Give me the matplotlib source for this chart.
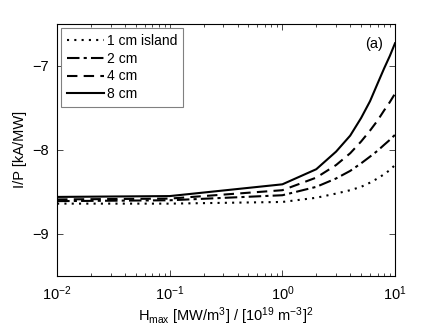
import matplotlib
matplotlib.use("Agg")
import matplotlib.pyplot as plt
from matplotlib.ticker import LogLocator, NullFormatter

plt.rcParams['font.family'] = ['Liberation Sans', 'DejaVu Sans']
plt.rcParams['mathtext.fontset'] = 'custom'
plt.rcParams['mathtext.rm'] = 'Liberation Sans'
plt.rcParams['mathtext.it'] = 'Liberation Sans'

h_max = [0.01, 0.1, 1, 2, 3, 4, 5, 6, 7, 8, 9, 10]
ip_1cm = [-8.64, -8.64, -8.62, -8.57, -8.52, -8.48, -8.44, -8.39, -8.34, -8.29, -8.24, -8.18]
ip_2cm = [-8.61, -8.60, -8.54, -8.44, -8.34, -8.25, -8.16, -8.08, -8.01, -7.94, -7.88, -7.82]
ip_4cm = [-8.59, -8.58, -8.48, -8.33, -8.18, -8.04, -7.90, -7.77, -7.65, -7.53, -7.43, -7.33]
ip_8cm = [-8.56, -8.55, -8.41, -8.23, -8.02, -7.83, -7.62, -7.42, -7.21, -7.03, -6.88, -6.73]

labels = ["1 cm island", "2 cm", "4 cm", "8 cm"]
styles = [(0, (1, 2.5)), (0, (6, 2, 1.5, 2)), (0, (5, 3)), "-"]

fig = plt.figure(figsize=(4.36, 3.28), dpi=100)
ax = fig.add_axes([0.131, 0.159, 0.775, 0.768])

for ys, lab, ls in zip([ip_1cm, ip_2cm, ip_4cm, ip_8cm], labels, styles):
    ax.plot(h_max, ys, color="black", linestyle=ls, linewidth=1.5, label=lab)

ax.set_xscale("log")
ax.set_xlim(0.01, 10)
ax.set_ylim(-9.5, -6.5)
ax.set_yticks([-9, -8, -7])
ax.set_yticklabels(["\u22129", "\u22128", "\u22127"])
ax.xaxis.set_minor_locator(LogLocator(base=10, subs=range(2, 10)))
ax.xaxis.set_minor_formatter(NullFormatter())

ax.tick_params(axis="both", which="both", direction="in", top=True, right=True,
               labelsize=10.5, pad=6)
ax.tick_params(axis="both", which="major", length=4, width=0.5)
ax.tick_params(axis="x", which="minor", length=2, width=0.5)
for sp in ax.spines.values():
    sp.set_linewidth(0.8)

ax.set_xlabel("H$_{\\mathrm{max}}$ [MW/m$^3$] / [10$^{19}$ m$^{-3}$]$^2$", fontsize=10.5, labelpad=2)
ax.set_ylabel("I/P [kA/MW]", fontsize=10.5, labelpad=4)
ax.text(0.965, 0.92, "(a)", transform=ax.transAxes, ha="right", va="center", fontsize=10.5)

leg = ax.legend(loc="upper left", fontsize=10, handlelength=2.7, handletextpad=0.2,
                labelspacing=0.28, borderpad=0.4, borderaxespad=0.3, fancybox=False,
                framealpha=1)
leg.get_frame().set_edgecolor("gray")
leg.get_frame().set_linewidth(0.8)

fig.savefig("out.png", dpi=100)
